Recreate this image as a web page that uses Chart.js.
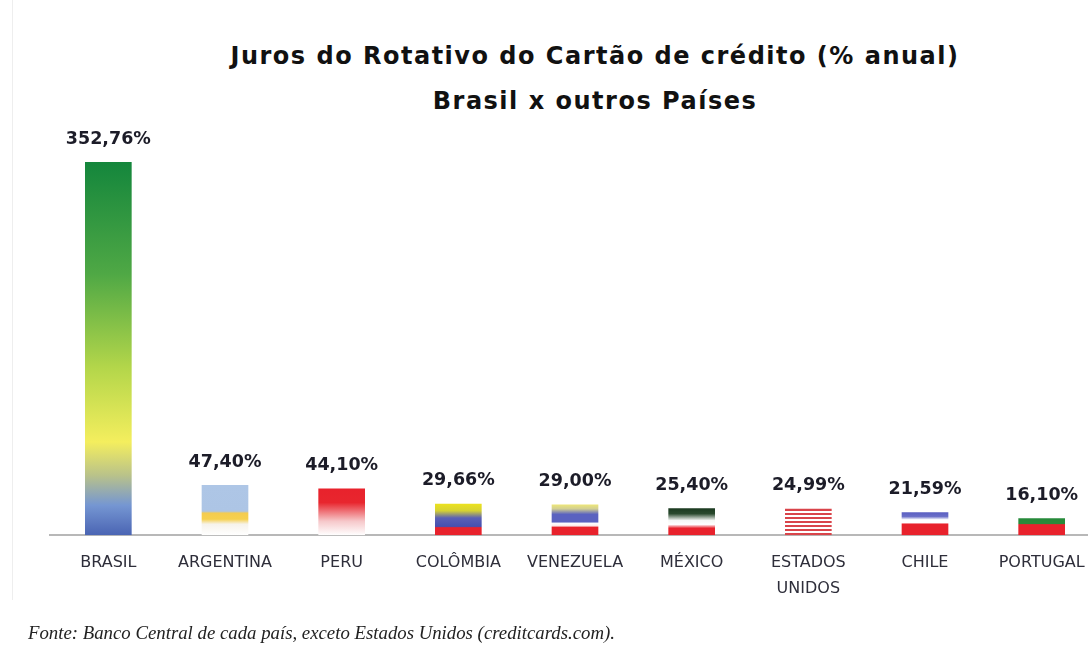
<!DOCTYPE html>
<html>
<head>
<meta charset="utf-8">
<script src="https://cdn.jsdelivr.net/npm/chart.js@4.4.1/dist/chart.umd.min.js"></script>
<style>
  html, body { margin: 0; padding: 0; background: #fff; overflow: hidden; }
  #wrap { position: relative; width: 1088px; height: 646px; overflow: hidden; }
  #edge { position: absolute; left: 12px; top: 0; width: 1px; height: 600px; background: #eeeeee; }
  .title { position: absolute; left: 0; width: 1190px; text-align: center; letter-spacing: 1.5px;
           font-family: "DejaVu Sans", Verdana, sans-serif; font-weight: bold; color: #111; font-size: 24px; }
  #t1 { top: 42px; }
  #t2 { top: 87px; }
  #note { position: absolute; left: 28px; top: 622px; font-family: "Liberation Serif", serif;
          font-style: italic; font-size: 18.8px; color: #222; }
  #chartBox { position: absolute; left: 0; top: 0; width: 1100px; height: 646px; }
</style>
</head>
<body>
<div id="wrap">
  <div id="edge"></div>
  <div class="title" id="t1">Juros do Rotativo do Cartão de crédito (% anual)</div>
  <div class="title" id="t2">Brasil x outros Países</div>
  <div id="chartBox"><canvas id="myChart" width="1100" height="646"></canvas></div>
  <div id="note">Fonte: Banco Central de cada país, exceto Estados Unidos (creditcards.com).</div>
</div>
<script>
// chart data
const countries = ['BRASIL', 'ARGENTINA', 'PERU', 'COLÔMBIA', 'VENEZUELA', 'MÉXICO', ['ESTADOS', 'UNIDOS'], 'CHILE', 'PORTUGAL'];
const rates = [352.76, 47.40, 44.10, 29.66, 29.00, 25.40, 24.99, 21.59, 16.10];
const rateLabels = ['352,76%', '47,40%', '44,10%', '29,66%', '29,00%', '25,40%', '24,99%', '21,59%', '16,10%'];

// flag-like fills, top to bottom
const RED = '#e8222c';
const usStripes = [];
for (let i = 0; i < 13; i++) {
  const c = i % 2 ? '#ffffff' : '#d9444a';
  usStripes.push([i / 13, c], [(i + 1) / 13 - 0.001, c]);
}
const flagStops = [
  [[0, '#14863c'], [0.3, '#4fa845'], [0.55, '#b3d64a'], [0.75, '#f4ee5e'], [0.84, '#b9c28a'], [0.92, '#7596d2'], [1, '#4a64b3']],
  [[0, '#aec6e6'], [0.52, '#adc5e5'], [0.56, '#f4cc50'], [0.68, '#f6d04e'], [0.78, '#f6f3ec'], [1, '#ffffff']],
  [[0, '#e8222c'], [0.3, '#e8262e'], [0.7, '#f6c8ca'], [1, '#ffffff']],
  [[0, '#ece21e'], [0.22, '#d6d232'], [0.45, '#5b60b6'], [0.72, '#4650b0'], [0.76, RED], [1, RED]],
  [[0, '#ede678'], [0.14, '#d2cf92'], [0.32, '#5a62c0'], [0.56, '#5a62c0'], [0.62, '#ffffff'], [0.7, '#fbe6e6'], [0.74, RED], [1, RED]],
  [[0, '#1b3a20'], [0.2, '#2a4a2e'], [0.45, '#f4f7f4'], [0.6, '#ffffff'], [0.66, '#f4a0a4'], [0.74, RED], [1, RED]],
  usStripes,
  [[0, '#5b5fc2'], [0.18, '#6a6ec8'], [0.32, '#ffffff'], [0.45, '#ffffff'], [0.52, RED], [1, RED]],
  [[0, '#258a3a'], [0.32, '#2a8a3a'], [0.38, RED], [1, RED]]
];

function flagFill(ctx) {
  const chart = ctx.chart;
  if (!chart.chartArea) return '#ccc';
  const y = chart.scales.y;
  const top = y.getPixelForValue(ctx.raw);
  const bot = y.getPixelForValue(0);
  const g = chart.ctx.createLinearGradient(0, top, 0, bot);
  flagStops[ctx.dataIndex].forEach(s => g.addColorStop(Math.min(1, Math.max(0, s[0])), s[1]));
  return g;
}

const valueLabels = {
  id: 'valueLabels',
  afterDatasetsDraw(chart) {
    const c = chart.ctx;
    const meta = chart.getDatasetMeta(0);
    c.save();
    c.font = 'bold 17.5px "DejaVu Sans", Verdana, sans-serif';
    c.fillStyle = '#1c1c28';
    c.textAlign = 'center';
    c.textBaseline = 'middle';
    meta.data.forEach((bar, i) => {
      c.fillText(rateLabels[i], bar.x, bar.y - 23);
    });
    c.restore();
  }
};

const ctx = document.getElementById('myChart').getContext('2d');
new Chart(ctx, {
  type: 'bar',
  data: {
    labels: countries,
    datasets: [{
      data: rates,
      backgroundColor: flagFill,
      borderWidth: 0,
      barPercentage: 0.4,
      categoryPercentage: 1
    }]
  },
  options: {
    responsive: false,
    animation: false,
    layout: { padding: { left: 50, right: 0, top: 162, bottom: 30 } },
    plugins: { legend: { display: false }, tooltip: { enabled: false } },
    scales: {
      x: {
        grid: { display: false, drawTicks: false },
        border: { display: true, color: '#b8b8b8', width: 2 },
        ticks: {
          padding: 14,
          maxRotation: 0,
          autoSkip: false,
          color: '#2e2e3a',
          font: { family: '"DejaVu Sans", Verdana, sans-serif', size: 16, lineHeight: 1.65 }
        }
      },
      y: { display: false, min: 0, max: 352.76 }
    }
  },
  plugins: [valueLabels]
});
</script>
</body>
</html>
